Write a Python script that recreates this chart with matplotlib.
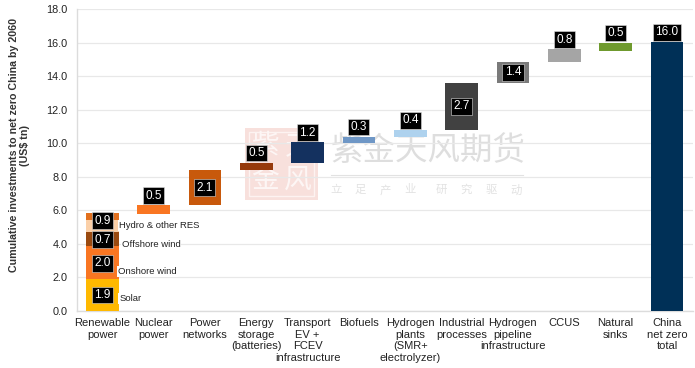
import numpy as np
import matplotlib
matplotlib.use('Agg')
import matplotlib.pyplot as plt
from matplotlib.patches import Rectangle

plt.rcParams['font.family'] = ['Liberation Sans', 'Noto Sans CJK SC', 'DejaVu Sans']

# renewable power stack
res_bottoms = [0.0, 1.9, 3.9, 4.7, 5.45]
res_tops = [1.9, 3.9, 4.7, 5.45, 5.82]
res_colors = ['#ffb900', '#f97622', '#9a4a10', '#fbd0a8', '#e2701e']
res_labels = ['1.9', '2.0', '0.7', '0.9']
res_names = ['Solar', 'Onshore wind', 'Offshore wind', 'Hydro & other RES']
res_label_y = [0.95, 2.85, 4.25, 5.38]
res_name_y = [0.75, 2.35, 3.95, 5.1]
res_name_x = [0.33, 0.31, 0.38, 0.33]

# waterfall
categories = ['Renewable\npower', 'Nuclear\npower', 'Power\nnetworks', 'Energy\nstorage\n(batteries)',
              'Transport\nEV +\nFCEV\ninfrastructure', 'Biofuels', 'Hydrogen\nplants\n(SMR+\nelectrolyzer)',
              'Industrial\nprocesses', 'Hydrogen\npipeline\ninfrastructure', 'CCUS', 'Natural\nsinks',
              'China\nnet zero\ntotal']
bottoms = [5.76, 6.3, 8.4, 8.85, 10.0, 10.35, 10.8, 13.6, 14.85, 15.5, 0.0]
tops = [6.3, 8.4, 8.85, 10.05, 10.4, 10.8, 13.6, 14.85, 15.6, 16.0, 16.03]
values = ['0.5', '2.1', '0.5', '1.2', '0.3', '0.4', '2.7', '1.4', '0.8', '0.5', '16.0']
colors = ['#f97622', '#c8590c', '#963a0c', '#14315f', '#6f97c6', '#aed2ee', '#414141', '#7a7a7a',
          '#a5a5a5', '#6f9a2e', '#003057']
inside = [False, True, False, False, False, False, True, True, False, False, False]

fig = plt.figure(figsize=(6.95, 3.68), dpi=100)
ax = fig.add_axes([76.6/695, 1-311/368, 616/695, 302/368])
bar_w = 0.64
box = dict(facecolor='black', edgecolor='#dddddd', linewidth=0.4, boxstyle='square,pad=0.2')


def value_label(x, y, s, dy=0):
    ax.annotate(s, (x, y), xytext=(0, dy), textcoords='offset points', ha='center', va='center',
                color='white', fontsize=8.5, bbox=box, zorder=6)


# watermark goes under the bars
stamp = fig.add_axes([245/695, 1-200/368, 73/695, 72/368], zorder=0)
stamp.set_xlim(0, 1)
stamp.set_ylim(0, 1)
stamp.axis('off')
stamp.add_patch(Rectangle((0.0, 0.0), 1, 1, facecolor='#f8e0dc', edgecolor='none'))
stamp.add_patch(Rectangle((0.05, 0.05), 0.9, 0.9, facecolor='none', edgecolor='#fdf3f1', linewidth=1))
for tx, ty, ch in [(0.28, 0.74, '紫'), (0.73, 0.74, '天'), (0.28, 0.27, '金'), (0.73, 0.27, '风')]:
    stamp.text(tx, ty, ch, color='#fdf6f5', fontsize=20, ha='center', va='center')
ax.set_zorder(1)
ax.patch.set_alpha(0)
fig.text(331/695, 1-152/368, '紫金天风期货', color='#dedede', fontsize=23.4, ha='left', va='center', zorder=0)
for px, ch in zip([336, 360, 385, 410, 441, 466, 491, 516], '立足产业研究驱动'):
    fig.text(px/695, 1-190/368, ch, color='#e2e2e2', fontsize=8.2, ha='center', va='center', zorder=0)
fig.add_artist(plt.Line2D([331/695, 523/695], [1-175/368, 1-175/368], color='#e2e2e2', lw=0.8, zorder=0))

x = np.arange(len(categories))
ax.bar(0, np.array(res_tops)-np.array(res_bottoms), bar_w, bottom=res_bottoms, color=res_colors, zorder=3)
ax.bar(x[1:], np.array(tops)-np.array(bottoms), bar_w, bottom=bottoms, color=colors, zorder=3)

for y, s in zip(res_label_y, res_labels):
    value_label(0, y, s)
for px, y, s in zip(res_name_x, res_name_y, res_names):
    ax.text(px, y, s, fontsize=6.8, va='center', ha='left', color='#222222', zorder=5,
            bbox=dict(facecolor='white', edgecolor='none', pad=0.6))
for i, s in enumerate(values):
    if inside[i]:
        value_label(x[i+1], (bottoms[i]+tops[i])/2, s)
    else:
        value_label(x[i+1], tops[i], s, dy=6.9)

ax.set_xlim(-0.5, 11.5)
ax.set_ylim(0, 18)
ax.set_yticks(np.arange(0, 19, 2))
ax.set_yticklabels(['%.1f' % v for v in np.arange(0, 19, 2)])
ax.set_xticks(x)
ax.set_xticklabels(categories, linespacing=1.2)
ax.tick_params(axis='both', length=0, colors='#222222')
ax.tick_params(axis='y', pad=6.5, labelsize=7.8)
ax.tick_params(axis='x', pad=5, labelsize=8)
ax.grid(True, axis='y', color='#e8e8e8', linewidth=0.9, zorder=1)
ax.set_axisbelow(True)
for side in ['top', 'right']:
    ax.spines[side].set_visible(False)
for side in ['left', 'bottom']:
    ax.spines[side].set_color('#dcdcdc')
    ax.spines[side].set_linewidth(1.0)

fig.text(19.5/695, 1-145/368, 'Cumulative investments to net zero China by 2060\n(US$ tn)', rotation=90,
         fontsize=7.7, fontweight='bold', ha='center', va='center', color='#333333', linespacing=1.2)

fig.savefig('out.png', dpi=100)
